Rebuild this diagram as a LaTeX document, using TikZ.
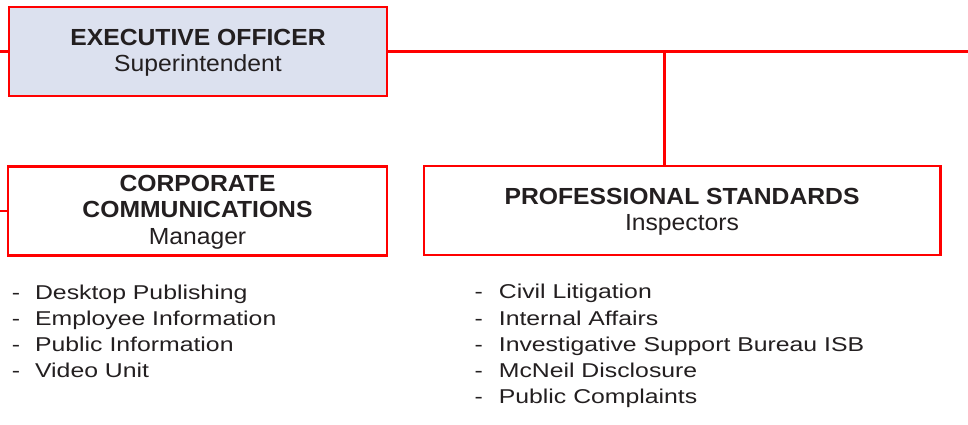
\documentclass[tikz,border=0pt]{standalone}
\usepackage{fontspec}
\setmainfont{Liberation Sans}
\newfontfamily\headfont[FakeStretch=1.06]{Liberation Sans}
\newfontfamily\listfont[FakeStretch=1.24]{Liberation Sans}
\usetikzlibrary{positioning}
\definecolor{orgred}{RGB}{255,0,0}
\definecolor{orgfill}{RGB}{220,225,239}
\definecolor{orgtext}{RGB}{35,31,32}
\newcommand\orgstrut{\rule[-4pt]{0pt}{23pt}}
\tikzset{
  unitbox/.style={draw=orgred,line width=2.5pt,rectangle,inner sep=0pt,align=center,
    text=orgtext,font=\headfont\fontsize{23.3}{26.4}\selectfont,minimum height=89pt},
  listbox/.style={inner sep=0pt,text=orgtext,font=\listfont\fontsize{20}{26.2}\selectfont},
  link/.style={draw=orgred,line width=2.5pt}
}
\begin{document}
\begin{tikzpicture}[x=1pt,y=-1pt]
    \useasboundingbox (0,0) rectangle (968,425);
    %% Boxes
    \node[unitbox,fill=orgfill,minimum width=378pt] (exec) at (198,51.7)
        {\orgstrut\textbf{EXECUTIVE OFFICER}\\\orgstrut Superintendent};
    \node[unitbox,fill=white,minimum width=379pt] (corp) at (197.5,210.9)
        {\orgstrut\textbf{CORPORATE}\\\orgstrut\textbf{COMMUNICATIONS}\\\orgstrut Manager};
    \node[unitbox,fill=white,minimum width=516.5pt] (prof) at (682,210.7)
        {\orgstrut\textbf{PROFESSIONAL STANDARDS}\\\orgstrut Inspectors};
    %% Lists
    \node[listbox,below right=24pt and 4.9pt of corp.south west] (corplist) {%
        \begin{tabular}{@{}l@{\hspace{15pt}}l@{}}
        - & Desktop Publishing\\
        - & Employee Information\\
        - & Public Information\\
        - & Video Unit
        \end{tabular}};
    \node[listbox,below right=24pt and 51.9pt of prof.south west] (proflist) {%
        \begin{tabular}{@{}l@{\hspace{16pt}}l@{}}
        - & Civil Litigation\\
        - & Internal Affairs\\
        - & Investigative Support Bureau ISB\\
        - & McNeil Disclosure\\
        - & Public Complaints
        \end{tabular}};
    %% Connectors
    \coordinate (execin) at (0,51.7);
    \coordinate (execout) at (968,51.7);
    \coordinate (branch) at (664.3,51.7);
    \coordinate (corpin) at (0,210.9);
    \draw[link] (execin) -- (exec.west);
    \draw[link] (exec.east) -- (execout);
    \draw[link] (branch) -- (branch |- prof.north);
    \draw[link] (corpin) -- (corp.west);
\end{tikzpicture}
\end{document}
